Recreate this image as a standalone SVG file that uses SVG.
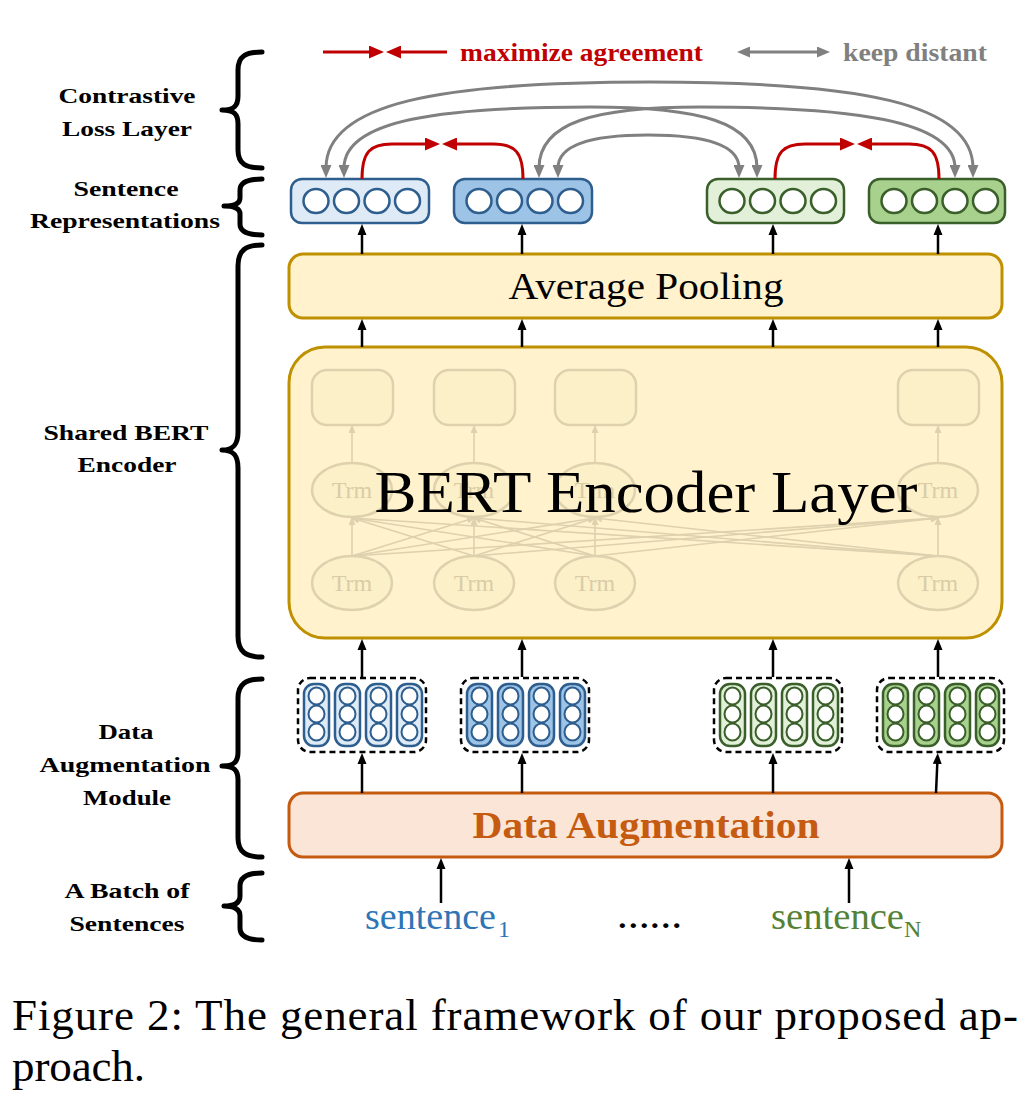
<svg xmlns="http://www.w3.org/2000/svg" width="1036" height="1100" viewBox="0 0 1036 1100">
<defs>
<style>
.lbl{font-family:'Liberation Serif','Times New Roman',serif;font-weight:bold;font-size:22px;fill:#000;text-anchor:middle}
.brace{fill:none;stroke:#000;stroke-width:5;stroke-linejoin:round;stroke-linecap:round}
.blk{stroke:#000;stroke-width:2.5;fill:none;marker-end:url(#aBlk)}
.red{stroke:#c00000;stroke-width:3;fill:none;marker-end:url(#aRed)}
.gray{stroke:#808080;stroke-width:3;fill:none;marker-start:url(#aGray);marker-end:url(#aGray)}
.faint{stroke:#ddd1ae;stroke-width:1.6;fill:none;marker-end:url(#aFaint)}
.fbox{fill:#fcf0c9;stroke:#ddd1ae;stroke-width:2.5}
.trm{font-family:'Liberation Serif','Times New Roman',serif;font-size:24px;fill:#d9cca6;text-anchor:middle}
.nb1{fill:#deebf7;stroke:#2e5e8e;stroke-width:2.5}
.nb2{fill:#9dc3e6;stroke:#2e5e8e;stroke-width:2.5}
.ng1{fill:#e2f0d9;stroke:#3a5f2a;stroke-width:2.5}
.ng2{fill:#a9d18e;stroke:#3a5f2a;stroke-width:2.5}
.cb{fill:#fff;stroke:#2e5e8e;stroke-width:2.5}
.cg{fill:#fff;stroke:#3a5f2a;stroke-width:2.5}
.pb{fill:#fff;stroke:#2e5e8e;stroke-width:2}
.pg{fill:#fff;stroke:#3a5f2a;stroke-width:2}
.dash{fill:none;stroke:#000;stroke-width:2.5;stroke-dasharray:6 4}
.serif{font-family:'Liberation Serif','Times New Roman',serif}
</style>
<marker id="aBlk" viewBox="0 0 11 10" markerUnits="userSpaceOnUse" markerWidth="11" markerHeight="10" refX="3" refY="5" orient="auto"><path d="M0,0.5 L11,5 L0,9.5 z" fill="#000"/></marker>
<marker id="aRed" viewBox="0 0 15 13" markerUnits="userSpaceOnUse" markerWidth="15" markerHeight="13" refX="3" refY="6.5" orient="auto"><path d="M0,0 L15,6.5 L0,13 z" fill="#c00000"/></marker>
<marker id="aGray" viewBox="0 0 13 11" markerUnits="userSpaceOnUse" markerWidth="13" markerHeight="11" refX="3" refY="5.5" orient="auto-start-reverse"><path d="M0,0 L13,5.5 L0,11 z" fill="#808080"/></marker>
<marker id="aFaint" viewBox="0 0 8 7" markerUnits="userSpaceOnUse" markerWidth="8" markerHeight="7" refX="7" refY="3.5" orient="auto"><path d="M0,0 L8,3.5 L0,7 z" fill="#ddd1ae"/></marker>
</defs>
<rect width="1036" height="1100" fill="#fff"/>

<g id="legend">
<path d="M323,52 L372,52" class="red"/>
<path d="M447,52 L398,52" class="red"/>
<text x="460" y="61" class="serif" font-weight="bold" font-size="25" fill="#c00000" textLength="243" lengthAdjust="spacingAndGlyphs">maximize agreement</text>
<path d="M747,52 L820,52" class="gray"/>
<text x="843" y="61" class="serif" font-weight="bold" font-size="25" fill="#808080" textLength="144" lengthAdjust="spacingAndGlyphs">keep distant</text>
</g>

<g id="layer-labels">
<path class="brace" d="M262,52 C246,52 238,56 238,70 L238,96 C238,106 234,110 222,110 C234,110 238,114 238,124 L238,150 C238,164 246,168 262,168"/>
<text class="lbl" x="127" y="103" textLength="137" lengthAdjust="spacingAndGlyphs">Contrastive</text>
<text class="lbl" x="127" y="136" textLength="130" lengthAdjust="spacingAndGlyphs">Loss Layer</text>
<path class="brace" d="M262,179 C248,179 240,182 240,190 L240,198 C240,203 236,206 224,206 C236,206 240,209 240,214 L240,224 C240,232 248,235 262,235"/>
<text class="lbl" x="126" y="196" textLength="105" lengthAdjust="spacingAndGlyphs">Sentence</text>
<text class="lbl" x="125" y="228" textLength="190" lengthAdjust="spacingAndGlyphs">Representations</text>
<path class="brace" d="M262,245 C246,245 238,250 238,266 L238,432 C238,444 234,450 222,450 C234,450 238,456 238,468 L238,636 C238,652 246,657 262,657"/>
<text class="lbl" x="126" y="440" textLength="165" lengthAdjust="spacingAndGlyphs">Shared BERT</text>
<text class="lbl" x="127" y="472" textLength="99" lengthAdjust="spacingAndGlyphs">Encoder</text>
<path class="brace" d="M262,679 C246,679 238,684 238,698 L238,752 C238,762 234,766 222,766 C234,766 238,770 238,780 L238,838 C238,852 246,857 262,857"/>
<text class="lbl" x="126" y="739" textLength="55" lengthAdjust="spacingAndGlyphs">Data</text>
<text class="lbl" x="125" y="772" textLength="171" lengthAdjust="spacingAndGlyphs">Augmentation</text>
<text class="lbl" x="127" y="805" textLength="88" lengthAdjust="spacingAndGlyphs">Module</text>
<path class="brace" d="M262,873 C248,873 240,877 240,886 L240,896 C240,902 236,906 224,906 C236,906 240,910 240,916 L240,928 C240,936 248,940 262,940"/>
<text class="lbl" x="127" y="898" textLength="125" lengthAdjust="spacingAndGlyphs">A Batch of</text>
<text class="lbl" x="127" y="931" textLength="115" lengthAdjust="spacingAndGlyphs">Sentences</text>
</g>

<g id="sent-rep-1">
<rect x="291" y="179" width="138" height="44" rx="11" class="nb1"/>
<ellipse cx="316" cy="201" rx="12.5" ry="12" class="cb"/><ellipse cx="346.5" cy="201" rx="12.5" ry="12" class="cb"/><ellipse cx="377" cy="201" rx="12.5" ry="12" class="cb"/><ellipse cx="407.5" cy="201" rx="12.5" ry="12" class="cb"/>
</g>
<g id="sent-rep-2">
<rect x="454" y="179" width="138" height="44" rx="11" class="nb2"/>
<ellipse cx="479" cy="201" rx="12.5" ry="12" class="cb"/><ellipse cx="509.5" cy="201" rx="12.5" ry="12" class="cb"/><ellipse cx="540" cy="201" rx="12.5" ry="12" class="cb"/><ellipse cx="570.5" cy="201" rx="12.5" ry="12" class="cb"/>
</g>
<g id="sent-rep-3">
<rect x="707" y="179" width="137" height="44" rx="11" class="ng1"/>
<ellipse cx="732" cy="201" rx="12.5" ry="12" class="cg"/><ellipse cx="762.5" cy="201" rx="12.5" ry="12" class="cg"/><ellipse cx="793" cy="201" rx="12.5" ry="12" class="cg"/><ellipse cx="823.5" cy="201" rx="12.5" ry="12" class="cg"/>
</g>
<g id="sent-rep-4">
<rect x="869" y="179" width="136" height="44" rx="11" class="ng2"/>
<ellipse cx="894" cy="201" rx="12.5" ry="12" class="cg"/><ellipse cx="924.5" cy="201" rx="12.5" ry="12" class="cg"/><ellipse cx="955" cy="201" rx="12.5" ry="12" class="cg"/><ellipse cx="985.5" cy="201" rx="12.5" ry="12" class="cg"/>
</g>

<g id="average-pooling">
<rect x="289" y="254" width="713" height="64" rx="14" fill="#fff2cc" stroke="#bf9000" stroke-width="3"/>
<text x="646" y="299" class="serif" font-size="38" text-anchor="middle" textLength="275" lengthAdjust="spacingAndGlyphs">Average Pooling</text>
</g>

<g id="bert-encoder">
<rect x="289" y="347" width="713" height="291" rx="36" fill="#fff2cc" stroke="#bf9000" stroke-width="3"/>
<rect x="312" y="370" width="81" height="55" rx="15" class="fbox"/>
<rect x="434" y="370" width="81" height="55" rx="15" class="fbox"/>
<rect x="555" y="370" width="81" height="55" rx="15" class="fbox"/>
<rect x="898" y="370" width="81" height="55" rx="15" class="fbox"/>
<path class="faint" d="M352,463 L352,426"/><path class="faint" d="M474,463 L474,426"/><path class="faint" d="M595,463 L595,426"/><path class="faint" d="M938,463 L938,426"/>
<ellipse cx="352" cy="490" rx="40" ry="27" class="fbox"/>
<ellipse cx="474" cy="490" rx="40" ry="27" class="fbox"/>
<ellipse cx="595" cy="490" rx="40" ry="27" class="fbox"/>
<ellipse cx="938" cy="490" rx="40" ry="27" class="fbox"/>
<text x="352" y="498" class="trm">Trm</text><text x="474" y="498" class="trm">Trm</text><text x="595" y="498" class="trm">Trm</text><text x="938" y="498" class="trm">Trm</text>
<path class="faint" d="M352,556 L352,518"/><path class="faint" d="M352,556 L474,518"/><path class="faint" d="M352,556 L595,518"/><path class="faint" d="M352,556 L938,518"/>
<path class="faint" d="M474,556 L352,518"/><path class="faint" d="M474,556 L474,518"/><path class="faint" d="M474,556 L595,518"/><path class="faint" d="M474,556 L938,518"/>
<path class="faint" d="M595,556 L352,518"/><path class="faint" d="M595,556 L474,518"/><path class="faint" d="M595,556 L595,518"/><path class="faint" d="M595,556 L938,518"/>
<path class="faint" d="M938,556 L352,518"/><path class="faint" d="M938,556 L474,518"/><path class="faint" d="M938,556 L595,518"/><path class="faint" d="M938,556 L938,518"/>
<ellipse cx="352" cy="583" rx="40" ry="27" class="fbox"/>
<ellipse cx="474" cy="583" rx="40" ry="27" class="fbox"/>
<ellipse cx="595" cy="583" rx="40" ry="27" class="fbox"/>
<ellipse cx="938" cy="583" rx="40" ry="27" class="fbox"/>
<text x="352" y="591" class="trm">Trm</text><text x="474" y="591" class="trm">Trm</text><text x="595" y="591" class="trm">Trm</text><text x="938" y="591" class="trm">Trm</text>
<text x="646" y="512" class="serif" font-size="60" text-anchor="middle" textLength="543" lengthAdjust="spacingAndGlyphs">BERT Encoder Layer</text>
</g>

<g id="aug-view-1">
<rect x="298" y="678" width="128" height="74" rx="12" class="dash"/>
<g class="nb1"><rect x="304" y="684" width="25" height="62" rx="10"/><rect x="335" y="684" width="25" height="62" rx="10"/><rect x="366" y="684" width="25" height="62" rx="10"/><rect x="397" y="684" width="25" height="62" rx="10"/></g>
<g class="pb"><ellipse cx="316.5" cy="696" rx="8" ry="8.5"/><ellipse cx="316.5" cy="714" rx="8" ry="8.5"/><ellipse cx="316.5" cy="732" rx="8" ry="8.5"/><ellipse cx="347.5" cy="696" rx="8" ry="8.5"/><ellipse cx="347.5" cy="714" rx="8" ry="8.5"/><ellipse cx="347.5" cy="732" rx="8" ry="8.5"/><ellipse cx="378.5" cy="696" rx="8" ry="8.5"/><ellipse cx="378.5" cy="714" rx="8" ry="8.5"/><ellipse cx="378.5" cy="732" rx="8" ry="8.5"/><ellipse cx="409.5" cy="696" rx="8" ry="8.5"/><ellipse cx="409.5" cy="714" rx="8" ry="8.5"/><ellipse cx="409.5" cy="732" rx="8" ry="8.5"/></g>
</g>
<g id="aug-view-2">
<rect x="461" y="678" width="128" height="74" rx="12" class="dash"/>
<g class="nb2"><rect x="467" y="684" width="25" height="62" rx="10"/><rect x="498" y="684" width="25" height="62" rx="10"/><rect x="529" y="684" width="25" height="62" rx="10"/><rect x="560" y="684" width="25" height="62" rx="10"/></g>
<g class="pb"><ellipse cx="479.5" cy="696" rx="8" ry="8.5"/><ellipse cx="479.5" cy="714" rx="8" ry="8.5"/><ellipse cx="479.5" cy="732" rx="8" ry="8.5"/><ellipse cx="510.5" cy="696" rx="8" ry="8.5"/><ellipse cx="510.5" cy="714" rx="8" ry="8.5"/><ellipse cx="510.5" cy="732" rx="8" ry="8.5"/><ellipse cx="541.5" cy="696" rx="8" ry="8.5"/><ellipse cx="541.5" cy="714" rx="8" ry="8.5"/><ellipse cx="541.5" cy="732" rx="8" ry="8.5"/><ellipse cx="572.5" cy="696" rx="8" ry="8.5"/><ellipse cx="572.5" cy="714" rx="8" ry="8.5"/><ellipse cx="572.5" cy="732" rx="8" ry="8.5"/></g>
</g>
<g id="aug-view-3">
<rect x="714" y="678" width="128" height="74" rx="12" class="dash"/>
<g class="ng1"><rect x="720" y="684" width="25" height="62" rx="10"/><rect x="751" y="684" width="25" height="62" rx="10"/><rect x="782" y="684" width="25" height="62" rx="10"/><rect x="813" y="684" width="25" height="62" rx="10"/></g>
<g class="pg"><ellipse cx="732.5" cy="696" rx="8" ry="8.5"/><ellipse cx="732.5" cy="714" rx="8" ry="8.5"/><ellipse cx="732.5" cy="732" rx="8" ry="8.5"/><ellipse cx="763.5" cy="696" rx="8" ry="8.5"/><ellipse cx="763.5" cy="714" rx="8" ry="8.5"/><ellipse cx="763.5" cy="732" rx="8" ry="8.5"/><ellipse cx="794.5" cy="696" rx="8" ry="8.5"/><ellipse cx="794.5" cy="714" rx="8" ry="8.5"/><ellipse cx="794.5" cy="732" rx="8" ry="8.5"/><ellipse cx="825.5" cy="696" rx="8" ry="8.5"/><ellipse cx="825.5" cy="714" rx="8" ry="8.5"/><ellipse cx="825.5" cy="732" rx="8" ry="8.5"/></g>
</g>
<g id="aug-view-4">
<rect x="877" y="678" width="127" height="74" rx="12" class="dash"/>
<g class="ng2"><rect x="883" y="684" width="25" height="62" rx="10"/><rect x="914" y="684" width="25" height="62" rx="10"/><rect x="945" y="684" width="25" height="62" rx="10"/><rect x="976" y="684" width="23" height="62" rx="10"/></g>
<g class="pg"><ellipse cx="895.5" cy="696" rx="8" ry="8.5"/><ellipse cx="895.5" cy="714" rx="8" ry="8.5"/><ellipse cx="895.5" cy="732" rx="8" ry="8.5"/><ellipse cx="926.5" cy="696" rx="8" ry="8.5"/><ellipse cx="926.5" cy="714" rx="8" ry="8.5"/><ellipse cx="926.5" cy="732" rx="8" ry="8.5"/><ellipse cx="957.5" cy="696" rx="8" ry="8.5"/><ellipse cx="957.5" cy="714" rx="8" ry="8.5"/><ellipse cx="957.5" cy="732" rx="8" ry="8.5"/><ellipse cx="987.5" cy="696" rx="8" ry="8.5"/><ellipse cx="987.5" cy="714" rx="8" ry="8.5"/><ellipse cx="987.5" cy="732" rx="8" ry="8.5"/></g>
</g>

<g id="data-augmentation">
<rect x="289" y="793" width="713" height="64" rx="14" fill="#fbe5d6" stroke="#c55a11" stroke-width="3"/>
<text x="646" y="838" class="serif" font-weight="bold" font-size="38" fill="#c55a11" text-anchor="middle" textLength="347" lengthAdjust="spacingAndGlyphs">Data Augmentation</text>
</g>

<g id="sentences">
<text x="365" y="929" class="serif" font-size="38" fill="#2e75b6" textLength="131" lengthAdjust="spacingAndGlyphs">sentence</text>
<text x="498" y="937" class="serif" font-size="24" fill="#2e75b6">1</text>
<text x="617" y="928" class="serif" font-weight="bold" font-size="30" fill="#000" textLength="65" lengthAdjust="spacingAndGlyphs">……</text>
<text x="771" y="929" class="serif" font-size="38" fill="#548235" textLength="133" lengthAdjust="spacingAndGlyphs">sentence</text>
<text x="904" y="937" class="serif" font-size="24" fill="#548235">N</text>
</g>

<g id="connectors">
<path class="blk" d="M441,903 L441,866"/>
<path class="blk" d="M849,903 L849,866"/>
<path class="blk" d="M362,793 L362,761"/>
<path class="blk" d="M522,793 L522,761"/>
<path class="blk" d="M773,793 L773,761"/>
<path class="blk" d="M936,793 L937.4,761"/>
<path class="blk" d="M362,677 L362,647"/>
<path class="blk" d="M522,677 L522,647"/>
<path class="blk" d="M773,677 L773,647"/>
<path class="blk" d="M938,677 L938,647"/>
<path class="blk" d="M362,347 L362,327"/>
<path class="blk" d="M522,347 L522,327"/>
<path class="blk" d="M773,347 L773,327"/>
<path class="blk" d="M938,347 L938,327"/>
<path class="blk" d="M362,254 L362,232"/>
<path class="blk" d="M522,254 L522,232"/>
<path class="blk" d="M773,254 L773,232"/>
<path class="blk" d="M938,254 L938,232"/>
<path class="gray" d="M326,168 C326,103 440,82 650,82 C860,82 973,103 973,168"/>
<path class="gray" d="M344,168 C344,120 440,107 590,107 C700,107 757,122 757,168"/>
<path class="gray" d="M539,168 C539,122 596,107 700,107 C850,107 955,120 955,168"/>
<path class="gray" d="M558,168 C558,145 590,135 648,135 C706,135 739,145 739,168"/>
<path class="red" d="M362,179 C362,152 370,144 392,144 L428,144"/>
<path class="red" d="M523,179 C523,152 515,144 493,144 L454,144"/>
<path class="red" d="M775,179 C775,152 783,144 805,144 L843,144"/>
<path class="red" d="M939,179 C939,152 931,144 909,144 L869,144"/>
</g>

<g id="caption">
<text x="12" y="1030" class="serif" font-size="45" fill="#000" textLength="1006" lengthAdjust="spacing">Figure 2: The general framework of our proposed ap-</text>
<text x="12" y="1081" class="serif" font-size="45" fill="#000" textLength="133" lengthAdjust="spacing">proach.</text>
</g>
</svg>
